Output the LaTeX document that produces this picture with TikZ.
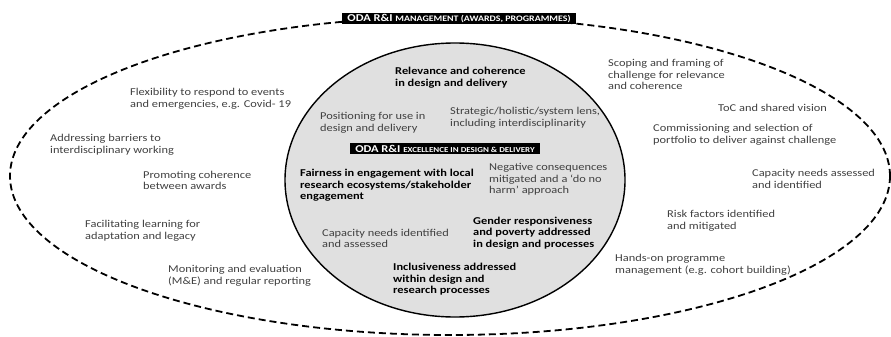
\documentclass[tikz,border=0pt]{standalone}
\usepackage{fontspec}
\setmainfont{Carlito}[FakeStretch=1.18]
\begin{document}
\begin{tikzpicture}[x=1pt,y=-1pt,
  item/.style={anchor=west,inner sep=0pt,align=left,text=black!75,
    font=\fontsize{10.5}{11.6}\selectfont},
  itemb/.style={item,text=black,font=\fontsize{10.5}{11.6}\selectfont\bfseries},
  tag/.style={fill=black,text=white,inner xsep=5pt,inner ysep=1.6pt,
    font=\fontsize{10.5}{11}\selectfont\bfseries},
  outerring/.style={draw=black,line width=1.8pt,dash pattern=on 7pt off 4pt},
  innerring/.style={draw=black,line width=1.4pt,fill=black!12}]
\useasboundingbox (0,0) rectangle (891,337);

% management layer and excellence core
\draw[outerring] (450,176) ellipse [x radius=440, y radius=159];
\draw[innerring] (455,180) ellipse [x radius=170, y radius=137];

\node[tag] (mgmt) at (459,18.5) {ODA R\&I {\fontsize{8.4}{9}\selectfont MANAGEMENT (AWARDS, PROGRAMMES)}};
\node[tag] (core) at (445,148.5) {ODA R\&I {\fontsize{7.6}{9}\selectfont EXCELLENCE IN DESIGN \& DELIVERY}};

% core items
\node[itemb] (rel) at (395,78) {Relevance and coherence\\in design and delivery};
\node[item] (pos) at (320,122.5) {Positioning for use in\\design and delivery};
\node[item] (strat) at (450,117.5) {Strategic/holistic/system lens,\\including interdisciplinarity};
\node[itemb] (fair) at (300,185.5) {Fairness in engagement with local\\research ecosystems/stakeholder\\engagement};
\node[item] (neg) at (489,179.5) {Negative consequences\\mitigated and a ‘do no\\harm’ approach};
\node[itemb] (gender) at (473,233) {Gender responsiveness\\and poverty addressed\\in design and processes};
\node[item] (capin) at (322,238.5) {Capacity needs identified\\and assessed};
\node[itemb] (incl) at (393,279.5) {Inclusiveness addressed\\within design and\\research processes};

% management items, left side
\node[item] (flex) at (130,98.5) {Flexibility to respond to events\\and emergencies, e.g. Covid- 19};
\node[item] (barr) at (50,144.5) {Addressing barriers to\\interdisciplinary working};
\node[item] (prom) at (143,180.5) {Promoting coherence\\between awards};
\node[item] (learn) at (85,231) {Facilitating learning for\\adaptation and legacy};
\node[item] (mande) at (168,275.5) {Monitoring and evaluation\\(M\&E) and regular reporting};

% management items, right side
\node[item] (scope) at (608,74.5) {Scoping and framing of\\challenge for relevance\\and coherence};
\node[item] (toc) at (718,108) {ToC and shared vision};
\node[item] (comm) at (653,134.5) {Commissioning and selection of\\portfolio to deliver against challenge};
\node[item] (capout) at (752,179) {Capacity needs assessed\\and identified};
\node[item] (risk) at (667,221) {Risk factors identified\\and mitigated};
\node[item] (hands) at (615,264.5) {Hands-on programme\\management (e.g. cohort building)};
\end{tikzpicture}
\end{document}
